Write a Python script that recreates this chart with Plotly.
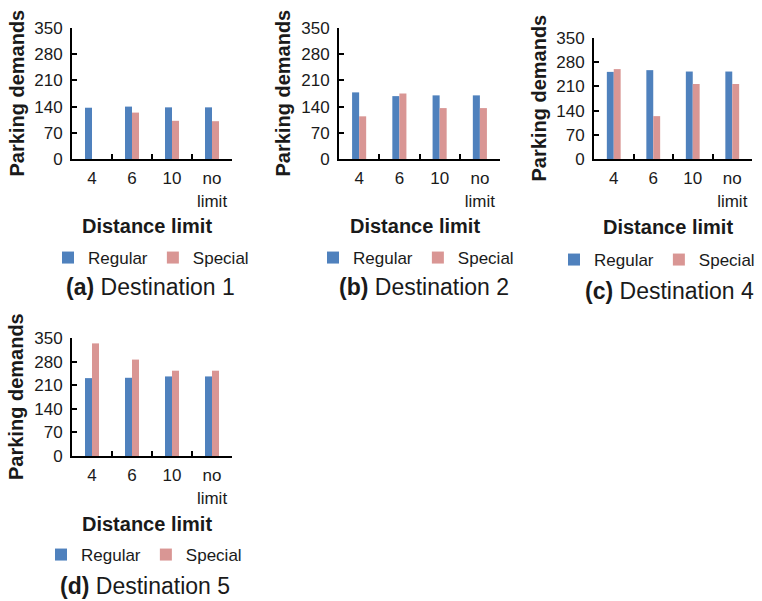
import plotly.graph_objects as go

categories = ["4", "6", "10", "no<br>limit"]
panel_tags = ["(a)", "(b)", "(c)", "(d)"]
destinations = ["Destination 1", "Destination 2", "Destination 4", "Destination 5"]
series_names = ["Regular", "Special"]

regular_d1 = [137, 140, 138, 138]
special_d1 = [0, 124, 102, 101]
regular_d2 = [178, 168, 170, 170]
special_d2 = [114, 175, 136, 136]
regular_d4 = [252, 257, 253, 253]
special_d4 = [260, 124, 217, 217]
regular_d5 = [231, 232, 236, 236]
special_d5 = [334, 286, 253, 253]

y_ticks = [0, 70, 140, 210, 280, 350]

regular_all = [regular_d1, regular_d2, regular_d4, regular_d5]
special_all = [special_d1, special_d2, special_d4, special_d5]

W, H = 762, 601
BLUE = "#4F81BD"
PINK = "#D99694"
FONT = "Liberation Sans, Arial, sans-serif"
TXT = "#1a1a1a"


def fx(px):
    return px / W


def fy(py):
    return 1 - py / H


# pixel geometry of each panel: (x0, x1, y_top(350), y_bottom(0))
geom = [
    (72, 232, 28, 159),
    (339, 500, 28, 159),
    (594, 752, 38, 159),
    (72, 232, 338, 456),
]
ytitle_x = [17, 283, 539, 16]
xtitle_pos = [(147, 226), (415, 226), (668, 227), (147, 524)]
legend_pos = [(151, 258), (416, 258), (657, 260), (144, 555)]
caption_pos = [(150, 287), (424, 287), (669, 291), (145, 586)]

fig = go.Figure()
layout = dict(
    width=W, height=H, autosize=False,
    margin=dict(l=0, r=0, t=0, b=0, pad=0, autoexpand=False),
    paper_bgcolor="white", plot_bgcolor="white",
    barmode="group", bargap=0.65, bargroupgap=0,
    font=dict(family=FONT, color=TXT, size=16),
    showlegend=True,
)
annotations = []

for i in range(4):
    sfx = "" if i == 0 else str(i + 1)
    xa = "x" + sfx
    ya = "y" + sfx
    lg = "legend" + sfx
    fig.add_trace(go.Bar(x=categories, y=regular_all[i], name=series_names[0],
                         marker=dict(color=BLUE, line=dict(width=0)),
                         xaxis=xa, yaxis=ya, legend=lg))
    fig.add_trace(go.Bar(x=categories, y=special_all[i], name=series_names[1],
                         marker=dict(color=PINK, line=dict(width=0)),
                         xaxis=xa, yaxis=ya, legend=lg))
    x0, x1, yt, yb = geom[i]
    layout["xaxis" + sfx] = dict(
        domain=[fx(x0), fx(x1)], anchor=ya, type="category", automargin=False,
        tickson="boundaries", ticks="inside", ticklen=5, tickwidth=2,
        tickcolor="black", showline=True, linecolor="black", linewidth=2,
        showgrid=False, zeroline=False, ticklabelstandoff=3, tickangle=0,
        tickfont=dict(size=17, family=FONT, color=TXT), fixedrange=True,
    )
    layout["yaxis" + sfx] = dict(
        domain=[fy(yb), fy(yt)], anchor=xa, range=[0, 350], automargin=False,
        tickvals=y_ticks, ticks="inside", ticklen=5, tickwidth=2,
        tickcolor="black", showline=True, linecolor="black", linewidth=2,
        showgrid=False, zeroline=False, ticklabelstandoff=4,
        tickfont=dict(size=17, family=FONT, color=TXT), fixedrange=True,
    )
    lx, ly = legend_pos[i]
    layout[lg] = dict(
        orientation="h", x=fx(lx), y=fy(ly), xanchor="center", yanchor="middle",
        font=dict(size=17, family=FONT, color=TXT), bgcolor="rgba(0,0,0,0)",
        itemwidth=30, traceorder="normal", tracegroupgap=0,
    )
    annotations.append(dict(
        text="<b>Parking demands</b>", textangle=-90, showarrow=False,
        xref="paper", yref="paper", x=fx(ytitle_x[i]), y=fy((yt + yb) / 2),
        xanchor="center", yanchor="middle", font=dict(size=20, family=FONT, color=TXT),
    ))
    tx, ty = xtitle_pos[i]
    annotations.append(dict(
        text="<b>Distance limit</b>", showarrow=False,
        xref="paper", yref="paper", x=fx(tx), y=fy(ty),
        xanchor="center", yanchor="middle", font=dict(size=20, family=FONT, color=TXT),
    ))
    cx, cy = caption_pos[i]
    annotations.append(dict(
        text="<b>" + panel_tags[i] + "</b> " + destinations[i], showarrow=False,
        xref="paper", yref="paper", x=fx(cx), y=fy(cy),
        xanchor="center", yanchor="middle", font=dict(size=23, family=FONT, color=TXT),
    ))

layout["annotations"] = annotations
fig.update_layout(**layout)
fig.write_html(
    "out.html",
    config={"displayModeBar": False},
    post_script="document.body.style.margin='0';document.body.style.overflow='hidden';",
)
